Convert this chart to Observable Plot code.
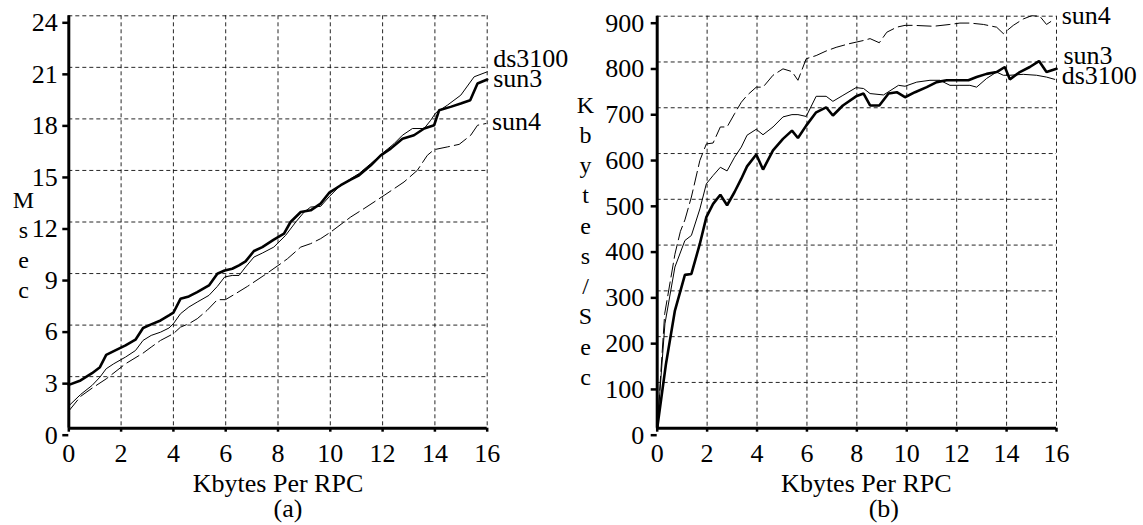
<!DOCTYPE html>
<html><head><meta charset="utf-8">
<script src="https://cdn.jsdelivr.net/npm/d3@7"></script>
<script src="https://cdn.jsdelivr.net/npm/@observablehq/plot@0.6"></script>
<style>
html,body{margin:0;padding:0;background:#fff;}
#wrap{position:relative;width:1143px;height:525px;overflow:hidden;background:#fff;}
#a,#b{position:absolute;top:0;}
#a{left:0;} #b{left:572px;}
svg text{font-family:'Liberation Serif','Times New Roman',Times,serif !important;}
</style></head><body><div id="wrap"><div id="a"></div><div id="b"></div></div>
<script>
// ---------- tick values ----------
const xTicks = [0, 2, 4, 6, 8, 10, 12, 14, 16];
const yTicksA = [0, 3, 6, 9, 12, 15, 18, 21, 24];
const yTicksB = [0, 100, 200, 300, 400, 500, 600, 700, 800, 900];

// ---------- panel (a): Msec vs Kbytes per RPC ----------
const aSun3X = [0, 0.45, 0.89, 1.19, 1.43, 1.72, 2.17, 2.55, 2.84, 3.15, 3.51, 3.83, 4.0, 4.27, 4.59, 4.91, 5.36, 5.68, 5.96, 6.25, 6.51, 6.76, 7.08, 7.4, 7.84, 8.23, 8.48, 8.87, 9.25, 9.63, 9.95, 10.4, 10.78, 11.1, 11.55, 11.93, 12.31, 12.76, 13.2, 13.59, 13.97, 14.16, 14.6, 14.99, 15.35, 15.63, 16];
const aSun3Y = [2.52, 2.78, 3.2, 3.55, 4.27, 4.49, 4.82, 5.15, 5.83, 6.04, 6.27, 6.56, 6.72, 7.53, 7.67, 7.92, 8.31, 8.99, 9.18, 9.28, 9.48, 9.71, 10.31, 10.54, 10.97, 11.32, 12.0, 12.58, 12.68, 13.07, 13.69, 14.14, 14.47, 14.72, 15.3, 15.88, 16.27, 16.85, 17.05, 17.44, 17.63, 18.5, 18.7, 18.9, 19.09, 20.06, 20.29];

const aDsX = [0, 0.45, 0.89, 1.19, 1.43, 1.72, 2.17, 2.55, 2.84, 3.15, 3.51, 3.83, 4.0, 4.27, 4.59, 4.91, 5.36, 5.68, 5.96, 6.25, 6.51, 6.76, 7.08, 7.4, 7.84, 8.29, 8.68, 9.0, 9.25, 9.63, 9.95, 10.33, 10.78, 11.1, 11.55, 12.06, 12.44, 12.76, 13.14, 13.59, 13.84, 14.03, 14.48, 14.99, 15.5, 16];
const aDsY = [1.3, 1.96, 2.49, 2.97, 3.46, 3.75, 4.14, 4.52, 5.11, 5.4, 5.59, 5.83, 6.08, 6.66, 7.05, 7.34, 7.73, 8.25, 8.8, 8.89, 8.89, 9.38, 9.96, 10.19, 10.54, 11.22, 12.0, 12.58, 12.87, 12.91, 13.46, 14.04, 14.52, 14.82, 15.4, 16.08, 16.56, 17.05, 17.44, 17.44, 17.92, 18.35, 18.8, 19.38, 20.45, 20.74];

const aSun4X = [0, 0.45, 0.89, 1.43, 2.17, 2.84, 3.15, 3.51, 4.0, 4.27, 4.59, 4.91, 5.29, 5.68, 5.99, 6.38, 6.83, 7.46, 8.1, 8.36, 8.87, 9.25, 9.63, 10.02, 10.78, 11.29, 12.06, 12.82, 13.33, 13.71, 13.97, 14.48, 14.93, 15.37, 15.63, 15.95];
const aSun4Y = [1.0, 1.85, 2.33, 2.87, 3.75, 4.37, 4.72, 5.11, 5.5, 5.88, 6.08, 6.37, 6.86, 7.48, 7.48, 7.83, 8.25, 8.89, 9.57, 9.86, 10.54, 10.74, 11.03, 11.42, 12.29, 12.78, 13.55, 14.33, 15.01, 15.88, 16.21, 16.37, 16.52, 17.05, 17.63, 17.73];

// ---------- panel (b): Kbytes/Sec vs Kbytes per RPC ----------
const bSun3X = [0, 0.35, 0.71, 1.11, 1.37, 1.71, 1.97, 2.24, 2.53, 2.8, 3.1, 3.37, 3.6, 3.97, 4.24, 4.64, 5.04, 5.4, 5.64, 5.97, 6.37, 6.77, 7.04, 7.44, 7.97, 8.27, 8.53, 8.9, 9.27, 9.6, 9.93, 10.33, 10.8, 11.2, 11.6, 12.13, 12.47, 12.8, 13.2, 13.6, 13.93, 14.13, 14.53, 14.93, 15.3, 15.6, 16];
const bSun3Y = [0, 140, 257, 335, 337, 403, 461, 490, 510, 487, 516, 545, 572, 598, 565, 607, 632, 650, 634, 661, 690, 701, 683, 705, 725, 731, 705, 705, 731, 734, 723, 734, 745, 756, 760, 760, 760, 767, 774, 778, 789, 762, 778, 789, 802, 778, 785];

const bDsX = [0, 0.31, 0.71, 1.11, 1.37, 1.71, 1.97, 2.24, 2.53, 2.8, 3.1, 3.37, 3.6, 3.97, 4.24, 4.64, 5.04, 5.4, 5.64, 5.97, 6.37, 6.77, 7.04, 7.44, 7.97, 8.27, 8.53, 9.07, 9.67, 9.93, 10.4, 10.93, 11.33, 11.73, 12.13, 12.53, 12.8, 13.2, 13.6, 13.87, 14.13, 14.67, 15.2, 15.6, 15.93];
const bDsY = [0, 228, 352, 410, 421, 479, 534, 552, 570, 562, 592, 614, 640, 653, 641, 658, 680, 685, 685, 681, 725, 725, 714, 727, 744, 742, 731, 728, 749, 747, 756, 760, 760, 749, 749, 749, 745, 764, 778, 771, 771, 773, 771, 767, 762];

const bSun4X = [0, 0.3, 0.71, 0.93, 1.11, 1.37, 1.71, 1.97, 2.24, 2.53, 2.8, 3.1, 3.37, 3.6, 3.97, 4.24, 4.64, 5.04, 5.4, 5.64, 5.97, 6.37, 6.77, 7.17, 7.7, 8.27, 8.53, 8.9, 9.2, 9.6, 9.93, 10.27, 11.07, 11.73, 12.13, 12.53, 13.07, 13.6, 13.87, 14.27, 14.67, 15.0, 15.33, 15.6, 15.93];
const bSun4Y = [0, 250, 380, 430, 455, 505, 585, 621, 623, 658, 658, 687, 712, 727, 745, 745, 771, 785, 779, 760, 807, 814, 824, 832, 840, 847, 851, 842, 865, 876, 880, 880, 878, 882, 885, 885, 882, 876, 862, 880, 894, 901, 900, 882, 894];

const FONT = "Liberation Serif";

function rows(xs, ys) { return xs.map((x, i) => ({x, y: ys[i]})); }

function panel(o) {
  const marks = [
    Plot.gridX(xTicks, {stroke: "#000", strokeOpacity: 0.85, strokeWidth: 1, strokeDasharray: "4,3"}),
    Plot.gridY(o.yTicks, {stroke: "#000", strokeOpacity: 0.85, strokeWidth: 1, strokeDasharray: "4,3"})
  ];
  for (const s of o.series) {
    const r = rows(s.xs, s.ys);
    marks.push(Plot.line(r, {x: "x", y: "y", stroke: "#000", strokeWidth: s.sw, strokeDasharray: s.dash, strokeLinejoin: "miter"}));
    marks.push(Plot.text([r[r.length - 1]], {x: "x", y: "y", text: () => s.name, textAnchor: "start", lineAnchor: "middle", dx: o.labelDx, dy: s.ldy, fontSize: 26, fontFamily: FONT, fill: "#000"}));
  }
  marks.push(
    Plot.ruleX([0], {strokeWidth: 3, stroke: "#000"}),
    Plot.ruleY([0], {strokeWidth: 3, stroke: "#000"}),
    Plot.axisX(xTicks, {tickSize: 4, tickPadding: 11.5, fontSize: 26, fontFamily: FONT, strokeWidth: 2.5, label: null, tickFormat: d => String(d)}),
    Plot.axisY(o.yTicks, {tickSize: 6, tickPadding: o.tickPad, fontSize: 26, fontFamily: FONT, dy: 7, strokeWidth: 2.5, label: null, tickFormat: d => String(d)}),
    Plot.text([o.yLabel], {frameAnchor: "top-left", lineAnchor: "top", textAnchor: "middle", dx: o.yLabelDx, dy: o.yLabelDy, fontSize: 24, fontFamily: FONT, lineHeight: o.yLabelLH}),
    Plot.text(["Kbytes Per RPC"], {frameAnchor: "bottom", lineAnchor: "top", textAnchor: "middle", dx: o.titleDx, dy: 45.5, fontSize: 26, fontFamily: FONT}),
    Plot.text([o.tag], {frameAnchor: "bottom", lineAnchor: "top", textAnchor: "middle", dx: o.tagDx, dy: 70.5, fontSize: 26, fontFamily: FONT})
  );
  return Plot.plot({
    width: o.width, height: 525,
    marginLeft: o.ml, marginRight: o.mr, marginTop: o.mt, marginBottom: 97.3,
    x: {domain: [0, 16]},
    y: {domain: o.yDomain},
    style: {fontFamily: "'Liberation Serif', 'Times New Roman', serif", fontSize: "26px", background: "#fff", color: "#000", overflow: "visible"},
    marks
  });
}

document.getElementById("a").append(panel({
  width: 571, ml: 68.3, mr: 84.3, mt: 15.3, yDomain: [0, 24], yTicks: yTicksA, tickPad: 5,
  yLabel: "M\ns\ne\nc", yLabelDx: -45.3, yLabelDy: 171, yLabelLH: 1.25,
  titleDx: 0, tag: "(a)", tagDx: 10, labelDx: 6,
  series: [
    {name: "ds3100", xs: aDsX, ys: aDsY, sw: 1, dash: null, ldy: -13},
    {name: "sun3", xs: aSun3X, ys: aSun3Y, sw: 2.6, dash: null, ldy: -1},
    {name: "sun4", xs: aSun4X, ys: aSun4Y, sw: 1, dash: "14,5", ldy: -1.4}
  ]
}));

document.getElementById("b").append(panel({
  width: 571, ml: 84.7, mr: 87, mt: 15.7, yDomain: [0, 900], yTicks: yTicksB, tickPad: 7,
  yLabel: "K\nb\ny\nt\ne\ns\n/\nS\ne\nc", yLabelDx: -71.7, yLabelDy: 75, yLabelLH: 1.26,
  titleDx: 9.5, tag: "(b)", tagDx: 27, labelDx: 7,
  series: [
    {name: "sun4", xs: bSun4X, ys: bSun4Y, sw: 1, dash: "14,5", ldy: -3.7},
    {name: "sun3", xs: bSun3X, ys: bSun3Y, sw: 2.6, dash: null, ldy: -13},
    {name: "ds3100", xs: bDsX, ys: bDsY, sw: 1, dash: null, ldy: -4}
  ]
}));
</script></body></html>
